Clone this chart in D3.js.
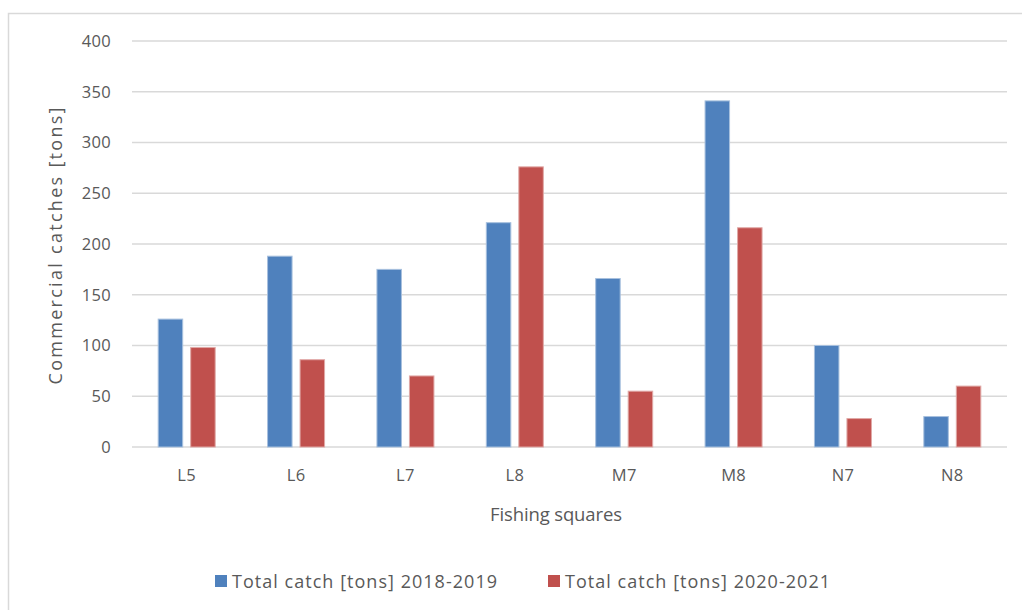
<!DOCTYPE html>
<html>
<head>
<meta charset="utf-8">
<script src="https://cdn.jsdelivr.net/npm/d3@7/dist/d3.min.js"></script>
<style>
  html, body { margin: 0; padding: 0; background: #fff; }
  svg { display: block; }
  text { font-family: "Open Sans", "Noto Sans", sans-serif; fill: #595959; }
</style>
</head>
<body>
<svg id="chart" width="1022" height="610"></svg>
<script>
// Fishing squares and commercial catches (tons)
const categories = ["L5", "L6", "L7", "L8", "M7", "M8", "N7", "N8"];
const catch2018_2019 = [126, 188, 175, 221, 166, 341, 100, 30];
const catch2020_2021 = [98, 86, 70, 276, 55, 216, 28, 60];
const seriesNames = ["Total catch [tons] 2018-2019", "Total catch [tons] 2020-2021"];
const yTicks = [0, 50, 100, 150, 200, 250, 300, 350, 400];

const colors = ["#4f81bd", "#c0504d"];
const edges = ["#a7c0de", "#e0a8a6"];

const svg = d3.select("#chart");

// chart frame
svg.append("rect")
  .attr("x", 8.5).attr("y", 13.5)
  .attr("width", 1040).attr("height", 620)
  .attr("fill", "#fff").attr("stroke", "#d9d9d9").attr("stroke-width", 1.5);

const plot = { left: 132, right: 1007, top: 41, bottom: 447 };

const x = d3.scaleBand().domain(categories).range([plot.left, plot.right]).paddingInner(0).paddingOuter(0);
const y = d3.scaleLinear().domain([0, 400]).range([plot.bottom, plot.top]);

// gridlines
svg.append("g")
  .selectAll("line")
  .data(yTicks)
  .join("line")
  .attr("x1", plot.left).attr("x2", plot.right)
  .attr("y1", d => y(d)).attr("y2", d => y(d))
  .attr("stroke", "#d9d9d9").attr("stroke-width", 1.5);

// y tick labels
const yAxis = d3.axisLeft(y).tickValues(yTicks).tickSize(0).tickPadding(0);
const gy = svg.append("g").attr("transform", `translate(${plot.left - 21},0)`).call(yAxis);
gy.select(".domain").remove();
gy.selectAll("text").attr("font-size", 16.5).attr("fill", "#595959")
  .attr("letter-spacing", 0.3)
  .style("font-family", "'Open Sans', sans-serif");

// x labels
const xAxis = d3.axisBottom(x).tickSize(0).tickPadding(0);
const gx = svg.append("g").attr("transform", `translate(0,${plot.bottom + 22})`).call(xAxis);
gx.select(".domain").remove();
gx.selectAll("text").attr("font-size", 16.5).attr("fill", "#595959")
  .attr("letter-spacing", 0.3)
  .style("font-family", "'Open Sans', sans-serif");

// grouped bars
const barW = 24.5, gap = 8;
const series = [catch2018_2019, catch2020_2021];
series.forEach((vals, si) => {
  svg.append("g")
    .selectAll("rect")
    .data(categories.map((c, i) => ({ c, v: vals[i] })))
    .join("rect")
    .attr("x", d => x(d.c) + x.bandwidth() / 2 - barW - gap / 2 + si * (barW + gap))
    .attr("y", d => y(d.v))
    .attr("width", barW)
    .attr("height", d => y(0) - y(d.v))
    .attr("fill", colors[si])
    .attr("stroke", edges[si]).attr("stroke-width", 1);
});

// axis titles
svg.append("text")
  .attr("transform", `translate(56,246) rotate(-90)`)
  .attr("text-anchor", "middle")
  .attr("dy", "0.35em")
  .attr("font-size", 18)
  .attr("textLength", 277).attr("lengthAdjust", "spacing")
  .text("Commercial catches [tons]");

svg.append("text")
  .attr("x", 556).attr("y", 521)
  .attr("text-anchor", "middle")
  .attr("font-size", 18.5)
  .attr("textLength", 132).attr("lengthAdjust", "spacing")
  .text("Fishing squares");

// legend
const legendX = [215, 548];
seriesNames.forEach((name, i) => {
  const g = svg.append("g").attr("transform", `translate(${legendX[i]},581)`);
  g.append("rect").attr("x", 0).attr("y", -6).attr("width", 12).attr("height", 12).attr("fill", colors[i]);
  g.append("text").attr("x", 17).attr("y", 6.5).attr("font-size", 18)
    .attr("textLength", 265).attr("lengthAdjust", "spacing")
    .text(name);
});
</script>
</body>
</html>
